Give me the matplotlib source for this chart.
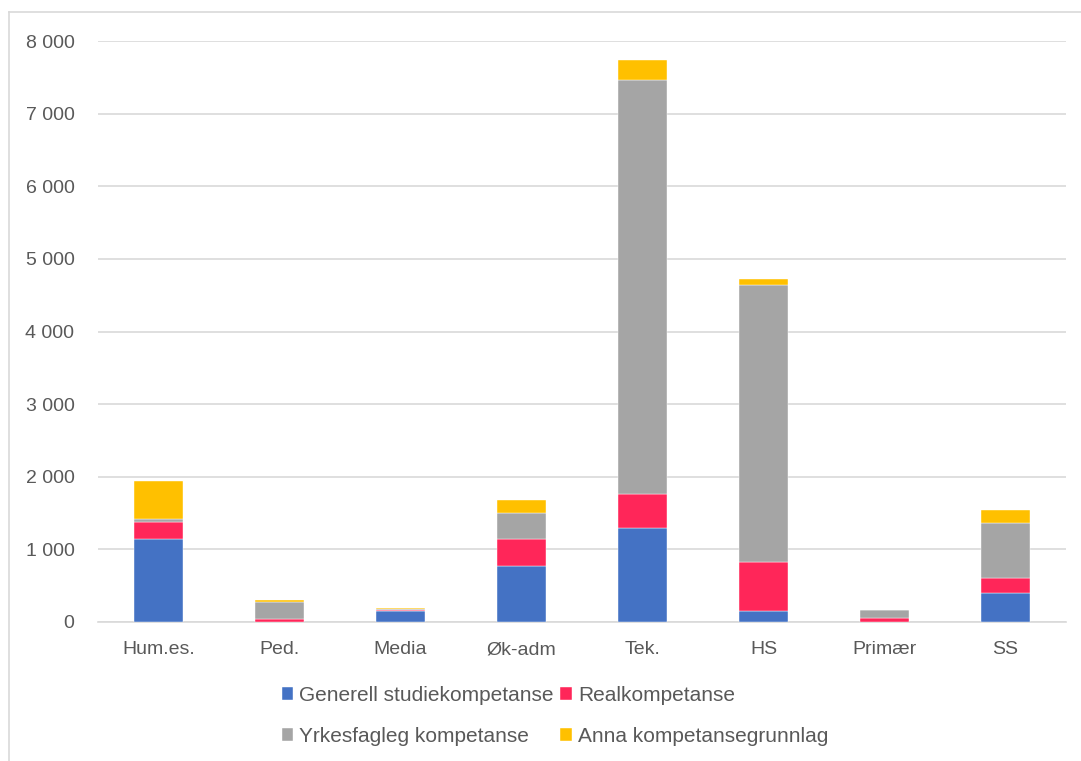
import matplotlib.pyplot as plt
from matplotlib.lines import Line2D
from matplotlib.ticker import FuncFormatter
import numpy as np

plt.rcParams["font.family"] = ["Liberation Sans", "DejaVu Sans"]

categories = ["Hum.es.", "Ped.", "Media", "Øk-adm", "Tek.", "HS", "Primær", "SS"]
generell = [1143, 5, 151, 776, 1290, 156, 5, 395]
real = [238, 40, 20, 372, 477, 675, 54, 215]
yrkesfagleg = [38, 234, 5, 358, 5694, 3811, 102, 758]
anna = [527, 19, 20, 174, 284, 83, 0, 175]

series = [
    ("Generell studiekompetanse", generell, "#4472C4"),
    ("Realkompetanse", real, "#FF2659"),
    ("Yrkesfagleg kompetanse", yrkesfagleg, "#A5A5A5"),
    ("Anna kompetansegrunnlag", anna, "#FFC000"),
]

W, H = 1081, 761
fig = plt.figure(figsize=(W / 100, H / 100), dpi=100)
ax = fig.add_axes([98 / W, 1 - 622 / H, (1066 - 98) / W, (622 - 41) / H])

x = np.arange(len(categories))
bottom = np.zeros(len(categories))
handles = []
for label, values, color in series:
    values = np.array(values, dtype=float)
    bars = ax.bar(x, values, 0.4, bottom=bottom, color=color, label=label,
                  edgecolor="white", linewidth=0.3, zorder=3)
    handles.append(bars)
    bottom += values

ax.set_xlim(-0.5, len(categories) - 0.5)
ax.set_ylim(0, 8000)
ax.set_yticks(range(0, 8001, 1000))
ax.yaxis.set_major_formatter(FuncFormatter(lambda v, _: f"{int(v):,}".replace(",", " ")))
ax.set_xticks(x)
ax.set_xticklabels(categories)
ax.grid(axis="y", color="#D9D9D9", linewidth=1.2, zorder=0)
for side in ["top", "right", "left"]:
    ax.spines[side].set_visible(False)
ax.spines["bottom"].set_color("#D9D9D9")
ax.spines["bottom"].set_linewidth(1.2)
ax.tick_params(axis="both", length=0, labelsize=14, colors="#595959")
ax.tick_params(axis="y", pad=17)
ax.tick_params(axis="x", pad=14)

# chart frame (only left and top edges are inside the picture)
fig.add_artist(Line2D([9 / W, 9 / W], [0, 1 - 12 / H], color="#D9D9D9", linewidth=1.2))
fig.add_artist(Line2D([9 / W, 1], [1 - 12 / H, 1 - 12 / H], color="#D9D9D9", linewidth=1.2))

# legend fills by column, so order handles to read row by row
order = [0, 2, 1, 3]
fig.legend([handles[i] for i in order], [series[i][0] for i in order],
           loc="center", bbox_to_anchor=(555 / W, 1 - 716 / H), ncol=2,
           frameon=False, fontsize=15, labelcolor="#595959",
           handlelength=0.55, handleheight=0.55, handletextpad=0.3,
           columnspacing=0.3, labelspacing=1.05)

fig.savefig("out.png", dpi=100)
